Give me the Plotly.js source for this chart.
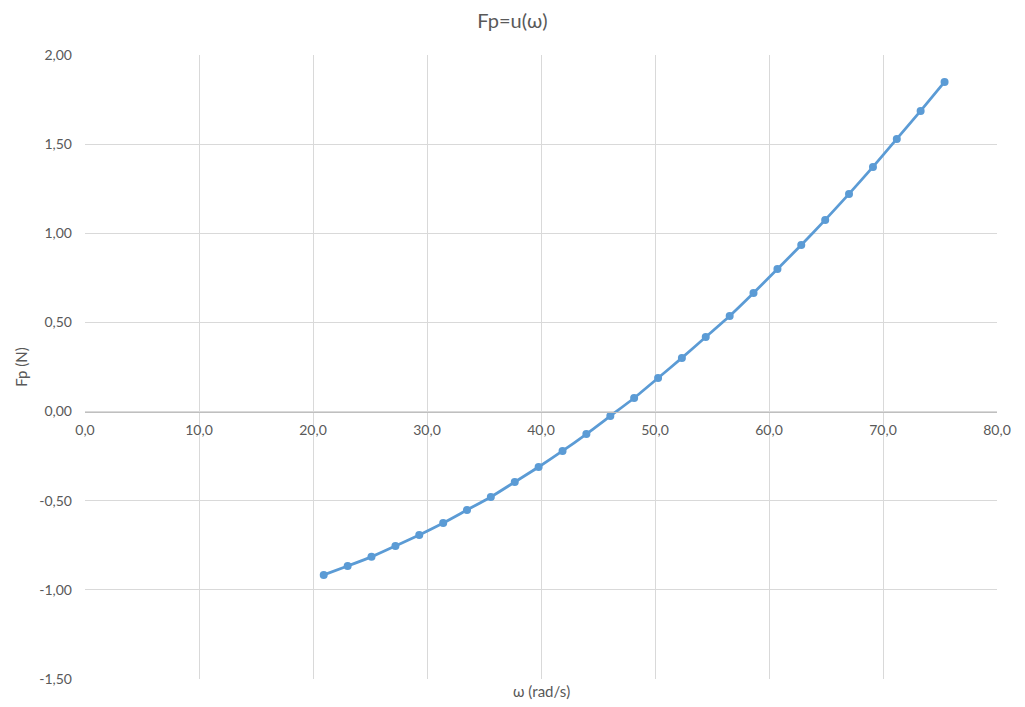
<!DOCTYPE html>
<html>
<head>
<meta charset="utf-8">
<script src="https://cdn.plot.ly/plotly-3.0.1.min.js"></script>
<style>html,body{margin:0;padding:0;background:#fff;}#chart{width:1025px;height:707px;}</style>
</head>
<body>
<div id="chart"></div>
<script>
// angular speed (rad/s)
const omega = [20.94, 23.04, 25.13, 27.23, 29.32, 31.42, 33.51, 35.60, 37.70, 39.79,
               41.89, 43.98, 46.08, 48.17, 50.27, 52.36, 54.45, 56.55, 58.64, 60.74,
               62.83, 64.93, 67.02, 69.12, 71.21, 73.30, 75.40];
// force Fp (N)
const fp = [-0.916, -0.866, -0.815, -0.754, -0.692, -0.625, -0.552, -0.479, -0.395, -0.311,
            -0.221, -0.126, -0.025, 0.076, 0.188, 0.301, 0.418, 0.536, 0.665, 0.800,
            0.934, 1.075, 1.221, 1.372, 1.529, 1.686, 1.849];

const xTickVals = [0, 10, 20, 30, 40, 50, 60, 70, 80];
const xTickText = ['0,0', '10,0', '20,0', '30,0', '40,0', '50,0', '60,0', '70,0', '80,0'];
const yTickVals = [-1.5, -1.0, -0.5, 0, 0.5, 1.0, 1.5, 2.0];
const yTickText = ['-1,50', '-1,00', '-0,50', '0,00', '0,50', '1,00', '1,50', '2,00'];

const chartTitle = 'Fp=u(ω)';
const xTitle = 'ω (rad/s)';
const yTitle = 'Fp (N)';

const font = 'Lato, Open Sans, sans-serif';
const grey = '#595959';

const trace = {
  x: omega, y: fp, type: 'scatter', mode: 'lines+markers',
  line: {color: '#5B9BD5', width: 2.75, shape: 'spline', smoothing: 0.6},
  marker: {color: '#5B9BD5', size: 8},
  hoverinfo: 'x+y'
};

const yMin = -1.5, yMax = 2.0;
const layout = {
  width: 1025, height: 707,
  margin: {l: 85, r: 28, t: 55, b: 28},
  paper_bgcolor: '#fff', plot_bgcolor: '#fff',
  font: {family: font, size: 14, color: grey},
  title: {text: chartTitle, font: {family: font, size: 20, color: grey}, x: 0.5, xanchor: 'center', y: 0.97, yanchor: 'middle'},
  showlegend: false,
  xaxis: {
    range: [0, 80], tickmode: 'array', tickvals: xTickVals, ticktext: xTickText,
    showgrid: true, gridcolor: '#d9d9d9', gridwidth: 1,
    zeroline: false, showline: true, linecolor: '#bfbfbf', linewidth: 1,
    ticks: '', anchor: 'free', position: (0 - yMin) / (yMax - yMin),
    tickfont: {family: font, size: 14, color: grey}, ticklabelstandoff: 6
  },
  yaxis: {
    range: [yMin, yMax], tickmode: 'array', tickvals: yTickVals, ticktext: yTickText,
    showgrid: true, gridcolor: '#d9d9d9', gridwidth: 1,
    zeroline: false, showline: false, ticks: '',
    tickfont: {family: font, size: 14, color: grey}, ticklabelstandoff: 12,
    title: {text: yTitle, font: {family: font, size: 15, color: grey}, standoff: 8}
  },
  annotations: [{
    text: xTitle, xref: 'paper', yref: 'paper', x: 0.5, y: 0, yshift: -12,
    xanchor: 'center', yanchor: 'middle', showarrow: false,
    font: {family: font, size: 15, color: grey}
  }]
};

Plotly.newPlot('chart', [trace], layout, {displayModeBar: false, staticPlot: true});
</script>
</body>
</html>
